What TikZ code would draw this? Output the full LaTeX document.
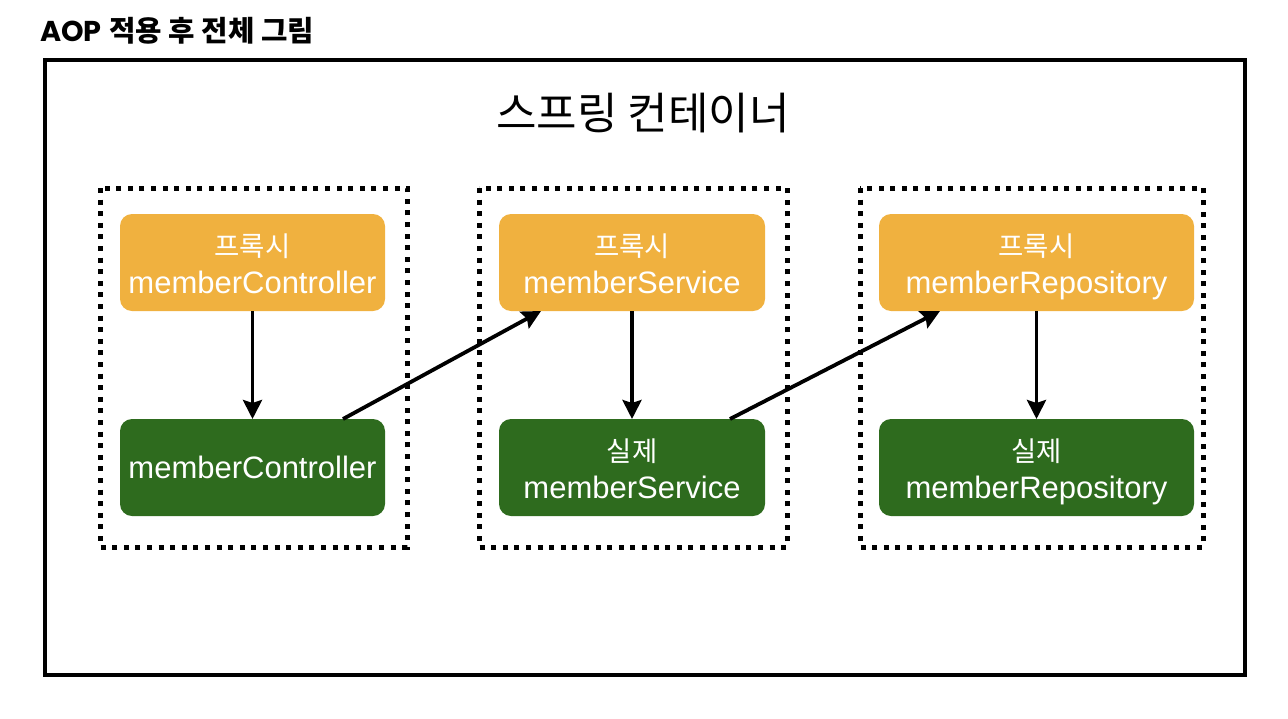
\documentclass[tikz,border=0pt]{standalone}
\usepackage{fontspec}
\setmainfont{Liberation Sans}
\newfontfamily\kr{Noto Sans CJK KR}
\newfontfamily\geo{Poppins}
\usetikzlibrary{arrows.meta, positioning}
\definecolor{proxyorange}{HTML}{F0B13F}
\definecolor{realgreen}{HTML}{2E6B1E}
\definecolor{edgeblack}{HTML}{000000}

\begin{document}
\begin{tikzpicture}[x=1pt, y=-1pt, every node/.style={outer sep=0pt}]

\useasboundingbox (0,0) rectangle (1288,718);

\tikzset{
  proxybox/.style={
    fill=proxyorange, rounded corners=12pt, minimum height=97pt,
    text=white, align=center, inner sep=0pt,
    font=\fontsize{31}{37}\selectfont
  },
  realbox/.style={proxybox, fill=realgreen},
  beanframe/.style={edgeblack, line width=5pt, dash pattern=on 5pt off 6.6pt},
  callarrow/.style={edgeblack, line width=3.8pt, -{Stealth[length=19pt, width=19pt, inset=3pt]}}
}

\def\kor#1{{\kr\fontsize{27.5}{37}\selectfont\rule{0pt}{32pt}#1}}
\def\bean#1{#1\vphantom{p}}

% Title
\node[
  font=\fontsize{28.7}{32}\selectfont\bfseries,
  anchor=west,
  inner sep=0pt
] (title) at (40,31) {{\geo AOP} {\kr 적용 후 전체 그림}};

% Spring container
\draw[edgeblack, line width=4pt] (45,60) rectangle (1245,675);
\node[
  font=\kr\fontsize{44}{48}\selectfont,
  inner sep=0pt
] (container) at (643,113) {스프링 컨테이너};

% Bean frames
\draw[beanframe] (100,188) rectangle (407,547);
\draw[beanframe] (479,188) rectangle (787,547);
\draw[beanframe] (860,188) rectangle (1203,547);

% Proxies
\node[proxybox, minimum width=265pt] (oCtrl) at (252.5,262.5) {\kor{프록시}\\\bean{memberController}};
\node[proxybox, minimum width=266pt] (oSvc) at (632,262.5) {\kor{프록시}\\\bean{memberService}};
\node[proxybox, minimum width=315pt] (oRepo) at (1036.5,262.5) {\kor{프록시}\\\bean{memberRepository}};

% Real beans
\node[realbox, minimum width=265pt, below=108pt of oCtrl] (gCtrl) {\rule{0pt}{29pt}\bean{memberController}};
\node[realbox, minimum width=266pt, below=108pt of oSvc] (gSvc) {\kor{실제}\\\bean{memberService}};
\node[realbox, minimum width=315pt, below=108pt of oRepo] (gRepo) {\kor{실제}\\\bean{memberRepository}};

% Calls
\draw[callarrow] (oCtrl) -- (gCtrl);
\draw[callarrow] (oSvc) -- (gSvc);
\draw[callarrow] (oRepo) -- (gRepo);
\draw[callarrow] ([xshift=-42pt]gCtrl.north east) -- ([xshift=42pt]oSvc.south west);
\draw[callarrow] ([xshift=-35pt]gSvc.north east) -- ([xshift=61pt]oRepo.south west);

\end{tikzpicture}
\end{document}
